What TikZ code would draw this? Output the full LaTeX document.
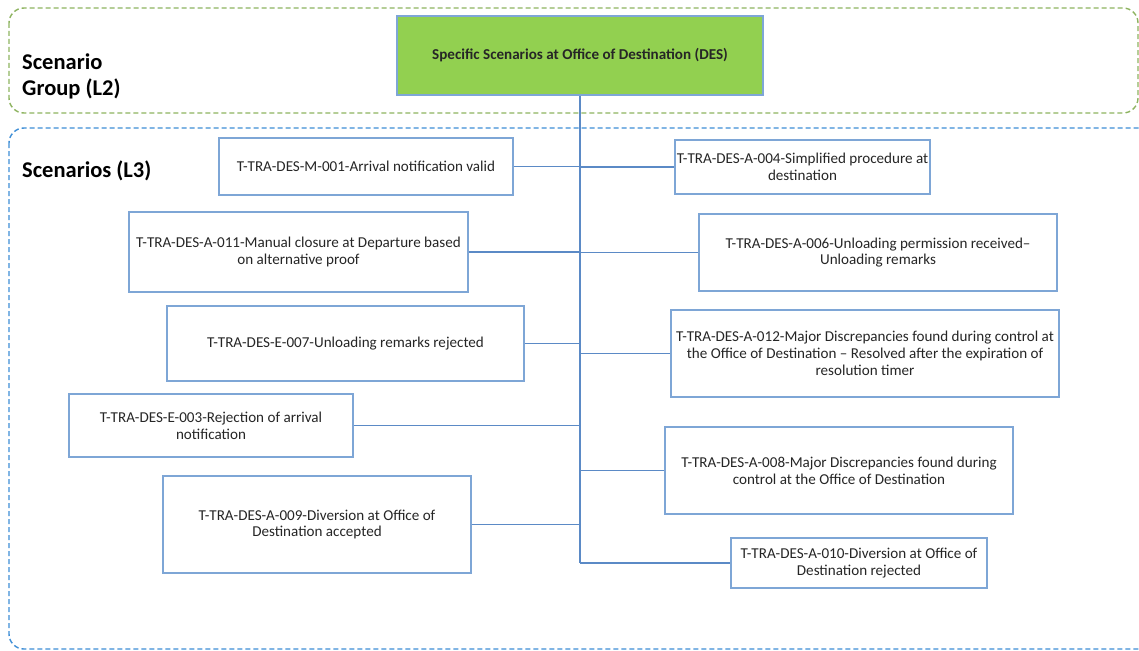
\documentclass[tikz,border=0pt]{standalone}
\usepackage{fontspec}
\setmainfont{Carlito}
\definecolor{boxline}{HTML}{7EA6D6}
\definecolor{conn}{HTML}{5B8AC6}
\definecolor{grpgreen}{HTML}{8DB35F}
\definecolor{grpblue}{HTML}{3E8ED6}
\definecolor{titlefill}{HTML}{92D050}
\definecolor{txt}{HTML}{262626}
\tikzset{
  scen/.style={draw=boxline, line width=1.5pt, fill=white, align=center, inner sep=1pt,
    font=\fontsize{15.1}{16.8}\selectfont, text=txt},
  conline/.style={draw=conn, line width=1.5pt},
  grp/.style={dashed, dash pattern=on 5pt off 3pt, line width=1.4pt, rounded corners=15pt},
  grplabel/.style={anchor=west, align=left, font=\fontsize{22.5}{26}\selectfont\bfseries, text=black, inner sep=0pt}
}
\begin{document}
\begin{tikzpicture}[x=1pt,y=-1pt]
\useasboundingbox (0,0) rectangle (1139,650);
% group frames
\draw[grp, draw=grpgreen] (9,8) rectangle (1138,113);
\begin{scope}
\clip (0,0) rectangle (1139,650);
\draw[grp, draw=grpblue] (9,128) rectangle (1170,649);
\end{scope}
\node[grplabel] (lblL2) at (22,76.5) {Scenario\\Group (L2)};
\node[grplabel] (lblL3) at (22,170.5) {Scenarios (L3)};
% title
\node[draw=boxline, line width=1.5pt, fill=titlefill, minimum width=366pt, minimum height=79pt,
  font=\fontsize{15.1}{16.8}\selectfont\bfseries, text=txt] (title) at (580,55.5)
  {Specific Scenarios at Office of Destination (DES)};
% scenario boxes
\node[scen, minimum width=294pt, minimum height=57pt] (m001) at (366,166.5)
  {T-TRA-DES-M-001-Arrival notification valid};
\node[scen, minimum width=255pt, minimum height=54pt] (a004) at (802.5,167)
  {T-TRA-DES-A-004-Simplified procedure at\\destination};
\node[scen, minimum width=339pt, minimum height=80pt] (a011) at (298.5,252)
  {T-TRA-DES-A-011-Manual closure at Departure based\\on alternative proof};
\node[scen, minimum width=358pt, minimum height=77pt] (a006) at (878,252.5)
  {T-TRA-DES-A-006-Unloading permission received--\\Unloading remarks};
\node[scen, minimum width=357pt, minimum height=75pt] (e007) at (345.5,343.5)
  {T-TRA-DES-E-007-Unloading remarks rejected};
\node[scen, minimum width=388pt, minimum height=87pt] (a012) at (865,353.5)
  {T-TRA-DES-A-012-Major Discrepancies found during control at\\the Office of Destination -- Resolved after the expiration of\\resolution timer};
\node[scen, minimum width=284pt, minimum height=63pt] (e003) at (211,425.5)
  {T-TRA-DES-E-003-Rejection of arrival\\notification};
\node[scen, minimum width=348pt, minimum height=87pt] (a008) at (839,470.5)
  {T-TRA-DES-A-008-Major Discrepancies found during\\control at the Office of Destination};
\node[scen, minimum width=308pt, minimum height=97pt] (a009) at (317,524.5)
  {T-TRA-DES-A-009-Diversion at Office of\\Destination accepted};
\node[scen, minimum width=256pt, minimum height=50pt] (a010) at (859,563)
  {T-TRA-DES-A-010-Diversion at Office of\\Destination rejected};
% trunk
\coordinate (trunkend) at (580,563);
\draw[conline] (title.south) -- (trunkend);
\foreach \n in {m001,a011,e007,e003,a009}{
  \draw[conline] (\n.east) -- (\n.east -| trunkend);
}
\foreach \n in {a004,a006,a012,a008}{
  \draw[conline] (\n.west -| trunkend) -- (\n.west);
}
\draw[conline] (trunkend) -- (a010.west);
\end{tikzpicture}
\end{document}
